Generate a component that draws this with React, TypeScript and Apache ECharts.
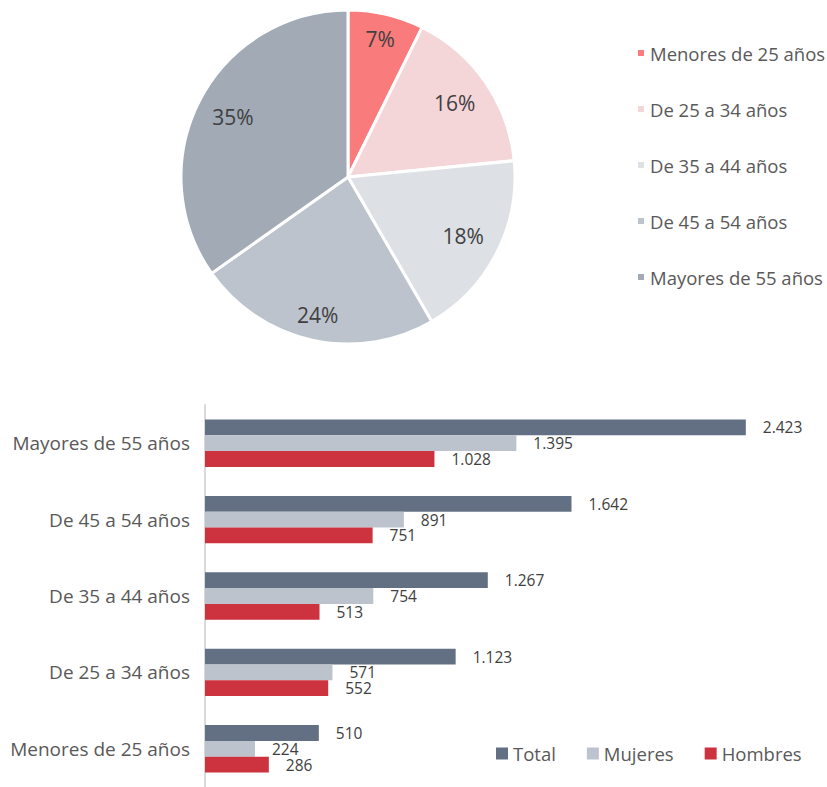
import React, { useEffect, useRef } from "react";
import * as echarts from "echarts";

const categories = [
  "Menores de 25 años",
  "De 25 a 34 años",
  "De 35 a 44 años",
  "De 45 a 54 años",
  "Mayores de 55 años",
];
const totalValues = [510, 1123, 1267, 1642, 2423];
const mujeresValues = [224, 571, 754, 891, 1395];
const hombresValues = [286, 552, 513, 751, 1028];
const pieColors = ["#F97B7B", "#F4D5D8", "#DDE0E5", "#BDC3CC", "#A1AAB5"];
const barSeriesNames = ["Total", "Mujeres", "Hombres"];
const barColors = ["#637083", "#BDC3CC", "#CC333E"];
// which pie labels sit further out (label ring)
const outerLabelIdx = [0, 3];

const FONT = "'Open Sans', 'Noto Sans', sans-serif";

function fmt(v: number): string {
  return String(v).replace(/\B(?=(\d{3})+(?!\d))/g, ".");
}

export default function App() {
  const ref = useRef<HTMLDivElement>(null);
  useEffect(() => {
    document.body.style.margin = "0";
    if (!ref.current) return;
    const chart = echarts.init(ref.current, undefined, { renderer: "svg" });
    const pieData = categories.map((c, i) => ({
      name: c,
      value: totalValues[i],
      itemStyle: { color: pieColors[i] },
    }));
    const barData = [totalValues, mujeresValues, hombresValues];
    const ghost = (radius: number[], outer: boolean) => ({
      type: "pie",
      center: [348, 177],
      radius,
      startAngle: 90,
      clockwise: true,
      percentPrecision: 0,
      silent: true,
      itemStyle: { color: "rgba(0,0,0,0)", borderWidth: 0 },
      label: {
        show: true,
        position: "inside",
        formatter: "{d}%",
        fontSize: 21,
        color: "#404040",
        fontFamily: FONT,
      },
      labelLine: { show: false },
      emphasis: { disabled: true },
      data: categories.map((c, i) => ({
        name: c,
        value: totalValues[i],
        itemStyle: { color: "rgba(0,0,0,0)" },
        label: { show: outerLabelIdx.includes(i) === outer },
      })),
    });
    chart.setOption({
      animation: false,
      backgroundColor: "#ffffff",
      textStyle: { fontFamily: FONT },
      legend: [
        {
          data: categories,
          orient: "vertical",
          left: 636,
          top: 42,
          padding: 0,
          icon: "rect",
          itemWidth: 8,
          itemHeight: 8,
          itemGap: 34,
          textStyle: { fontSize: 18.5, color: "#595959", fontFamily: FONT, lineHeight: 22 },
          selectedMode: false,
        },
        {
          data: barSeriesNames,
          orient: "horizontal",
          left: 496,
          top: 744,
          padding: 0,
          icon: "rect",
          itemWidth: 12,
          itemHeight: 12,
          itemGap: 31,
          textStyle: { fontSize: 18.5, color: "#595959", fontFamily: FONT },
          selectedMode: false,
        },
      ],
      grid: { left: 205, top: 405, width: 558, height: 390 },
      xAxis: {
        type: "value",
        min: 0,
        max: 2500,
        show: false,
        splitLine: { show: false },
      },
      yAxis: {
        type: "category",
        data: categories,
        axisLine: { show: true, lineStyle: { color: "#D9D9D9", width: 2 } },
        axisTick: { show: false },
        axisLabel: { fontSize: 19, color: "#595959", margin: 15, fontFamily: FONT },
      },
      series: [
        {
          type: "pie",
          name: "pie",
          center: [348, 177],
          radius: [0, 167],
          startAngle: 90,
          clockwise: true,
          percentPrecision: 0,
          itemStyle: { borderColor: "#ffffff", borderWidth: 3 },
          label: { show: false },
          labelLine: { show: false },
          emphasis: { disabled: true },
          data: pieData,
        },
        ghost([86, 167], false),
        ghost([110, 167], true),
        ...barSeriesNames.map((n, k) => ({
          type: "bar",
          name: n,
          data: barData[k],
          itemStyle: { color: barColors[k] },
          barGap: "0%",
          barCategoryGap: "38%",
          label: {
            show: true,
            position: "right",
            distance: 17,
            fontSize: 15.5,
            lineHeight: 16,
            color: "#404040",
            fontFamily: FONT,
            formatter: (p: any) => fmt(p.value),
          },
          emphasis: { disabled: true },
        })),
      ],
    });
    return () => chart.dispose();
  }, []);
  return <div ref={ref} style={{ width: 827, height: 787 }} />;
}
